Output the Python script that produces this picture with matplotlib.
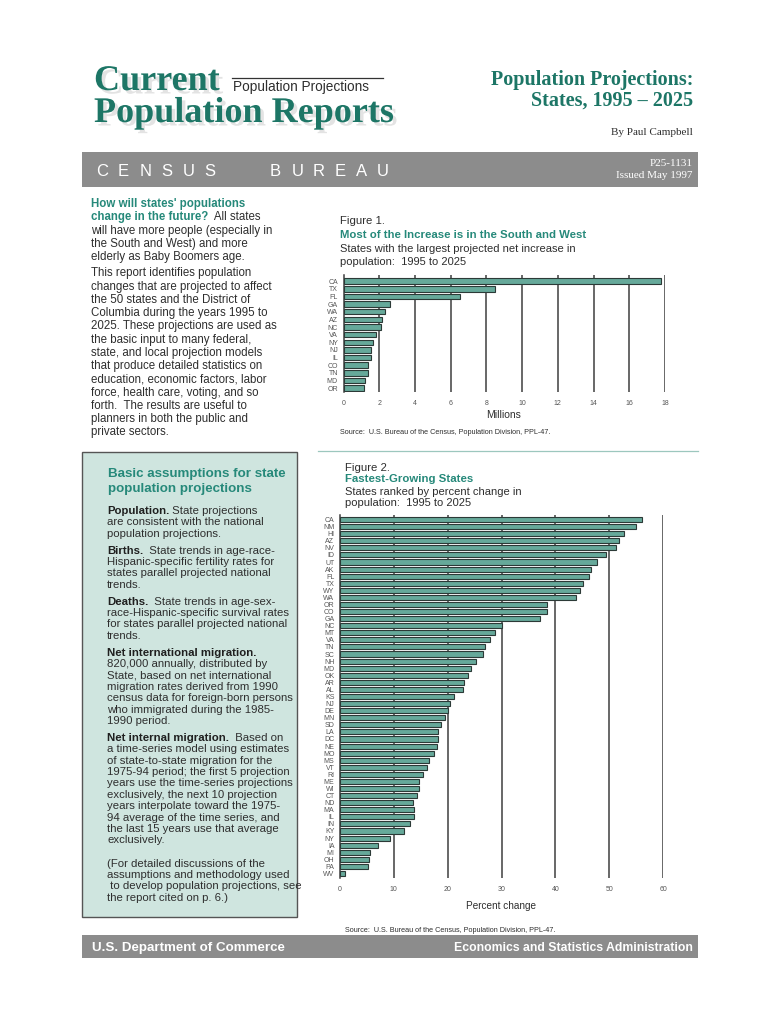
import matplotlib
matplotlib.use('Agg')
import matplotlib.pyplot as plt
import matplotlib.patheffects as pe
from matplotlib.patches import Rectangle
from matplotlib.lines import Line2D

# ---- data ----
fig1_states = ['CA', 'TX', 'FL', 'GA', 'WA', 'AZ', 'NC', 'VA', 'NY', 'NJ',
               'IL', 'CO', 'TN', 'MD', 'OR']
fig1_millions = [17.76, 8.46, 6.54, 2.61, 2.35, 2.16, 2.12, 1.80, 1.65, 1.54,
                 1.54, 1.37, 1.37, 1.20, 1.15]
fig1_ticks = [0, 2, 4, 6, 8, 10, 12, 14, 16, 18]

fig2_states = ['CA', 'NM', 'HI', 'AZ', 'NV', 'ID', 'UT', 'AK', 'FL', 'TX',
               'WY', 'WA', 'OR', 'CO', 'GA', 'NC', 'MT', 'VA', 'TN', 'SC',
               'NH', 'MD', 'OK', 'AR', 'AL', 'KS', 'NJ', 'DE', 'MN', 'SD',
               'LA', 'DC', 'NE', 'MO', 'MS', 'VT', 'RI', 'ME', 'WI', 'CT',
               'ND', 'MA', 'IL', 'IN', 'KY', 'NY', 'IA', 'MI', 'OH', 'PA', 'WV']
fig2_percent = [56.1, 55.0, 52.7, 51.9, 51.2, 49.5, 47.7, 46.7, 46.2, 45.2,
                44.6, 43.9, 38.4, 38.4, 37.1, 30.0, 28.8, 27.9, 26.9, 26.6,
                25.3, 24.4, 23.8, 23.1, 22.9, 21.2, 20.4, 20.0, 19.5, 18.8,
                18.2, 18.2, 18.0, 17.4, 16.5, 16.1, 15.4, 14.6, 14.6, 14.3,
                13.6, 13.7, 13.7, 13.0, 11.8, 9.3, 7.1, 5.6, 5.4, 5.2, 0.9]
fig2_ticks = [0, 10, 20, 30, 40, 50, 60]

intro_lines = [
    "will have more people (especially in",
    "the South and West) and more",
    "elderly as Baby Boomers age.",
    "This report identifies population",
    "changes that are projected to affect",
    "the 50 states and the District of",
    "Columbia during the years 1995 to",
    "2025. These projections are used as",
    "the basic input to many federal,",
    "state, and local projection models",
    "that produce detailed statistics on",
    "education, economic factors, labor",
    "force, health care, voting, and so",
    "forth.  The results are useful to",
    "planners in both the public and",
    "private sectors.",
]

box_paragraphs = [
    ("Population.", " State projections",
     ["are consistent with the national",
      "population projections."]),
    ("Births.", "  State trends in age-race-",
     ["Hispanic-specific fertility rates for",
      "states parallel projected national",
      "trends."]),
    ("Deaths.", "  State trends in age-sex-",
     ["race-Hispanic-specific survival rates",
      "for states parallel projected national",
      "trends."]),
    ("Net international migration.", "",
     ["820,000 annually, distributed by",
      "State, based on net international",
      "migration rates derived from 1990",
      "census data for foreign-born persons",
      "who immigrated during the 1985-",
      "1990 period."]),
    ("Net internal migration.", "  Based on",
     ["a time-series model using estimates",
      "of state-to-state migration for the",
      "1975-94 period; the first 5 projection",
      "years use the time-series projections",
      "exclusively, the next 10 projection",
      "years interpolate toward the 1975-",
      "94 average of the time series, and",
      "the last 15 years use that average",
      "exclusively."]),
]
box_note = [
    "(For detailed discussions of the",
    "assumptions and methodology used",
    " to develop population projections, see",
    "the report cited on p. 6.)",
]

# ---- colours / fonts ----
HEAD_TEAL = '#1d7666'
TEAL = '#26897a'
TEXT = '#2e2e2e'
BAND = '#8c8c8c'
BOX = '#cfe5df'
BAR = '#66a99a'
BAR_EDGE = '#2c3a37'
GRID = '#3f3f3f'
SANS = ['Liberation Sans', 'DejaVu Sans']
SERIF = ['Liberation Serif', 'DejaVu Serif']

W, H = 768, 1024
fig = plt.figure(figsize=(7.68, 10.24), dpi=100)
fig.patch.set_facecolor('white')
renderer = fig.canvas.get_renderer()


def put(x, y, s, **kw):
    # x, y in page pixels measured from the top left corner
    kw.setdefault('va', 'baseline')
    kw.setdefault('family', SANS)
    return fig.text(x / W, 1 - y / H, s, **kw)


def put_pair(x, y, lead, rest, lead_kw, rest_kw):
    t = put(x, y, lead, **lead_kw)
    bb = t.get_window_extent(renderer)
    if rest:
        put(bb.x1, y, rest, **rest_kw)


def rect(x0, y0, x1, y1, **kw):
    fig.add_artist(Rectangle((x0 / W, 1 - y1 / H), (x1 - x0) / W, (y1 - y0) / H,
                             transform=fig.transFigure, **kw))


def hline(x0, x1, y, **kw):
    fig.add_artist(Line2D([x0 / W, x1 / W], [1 - y / H, 1 - y / H],
                          transform=fig.transFigure, **kw))


# ---- masthead ----
shadow = [pe.SimplePatchShadow(offset=(2.5, -2.5), shadow_rgbFace='#b0b0b0', alpha=0.35),
          pe.Normal()]
put(94, 90, "Current", family=SERIF, weight='bold', size=26, color=HEAD_TEAL,
    path_effects=shadow)
put(94, 122, "Population Reports", family=SERIF, weight='bold', size=26,
    color=HEAD_TEAL, path_effects=shadow)
hline(232, 383, 78, color='#333333', lw=0.9)
put(233, 91, "Population Projections", size=9.8, color=TEXT)

put(693, 85, "Population Projections:", family=SERIF, weight='bold', size=14.5,
    color=HEAD_TEAL, ha='right')
put(693, 106, "States, 1995 \u2013 2025", family=SERIF, weight='bold', size=14.5,
    color=HEAD_TEAL, ha='right')
put(693, 135, "By Paul Campbell", family=SERIF, size=8, color=TEXT, ha='right')

rect(82, 152, 698, 187, facecolor=BAND, edgecolor='none')
for i, ch in enumerate("CENSUS"):
    put(96 + 21.6 * i, 176, ch, size=12, color='white')
for i, ch in enumerate("BUREAU"):
    put(270 + 21.4 * i, 176, ch, size=12, color='white')
put(693, 166, "P25-1131", family=SERIF, size=8, color='white', ha='right')
put(693, 178, "Issued May 1997", family=SERIF, size=8, color='white', ha='right')

# ---- intro column ----
body = dict(size=8.3, color=TEXT)
lead = dict(size=8.3, color=TEAL, weight='bold')
put(91, 207, "How will states' populations", **lead)
put_pair(91, 220.3, "change in the future?", "  All states", lead, body)
y = 233.6
for k, line in enumerate(intro_lines):
    if k == 3:
        y += 3
    put(91, y, line, **body)
    y += 13.25

# ---- assumptions box ----
rect(82, 452, 297, 917, facecolor=BOX, edgecolor='#555555', lw=1.0)
put(108, 477, "Basic assumptions for state", size=9.6, weight='bold', color=TEAL)
put(108, 492, "population projections", size=9.6, weight='bold', color=TEAL)
bbody = dict(size=8.2, color=TEXT)
bbold = dict(size=8.2, color='#1f1f1f', weight='bold')
y = 514
for head, rest, more in box_paragraphs:
    put_pair(107, y, head, rest, bbold, bbody)
    y += 11.4
    for line in more:
        put(107, y, line, **bbody)
        y += 11.4
    y += 5.4
y += 6.5
for line in box_note:
    put(107, y, line, **bbody)
    y += 11.4


# ---- charts ----
def bar_panel(left, right, top, bottom, states, values, ticks, ylim):
    ax = fig.add_axes([left / W, 1 - bottom / H, (right - left) / W, (bottom - top) / H])
    pos = list(range(len(states)))
    for t in ticks[1:]:
        ax.axvline(t, color=GRID, linewidth=1.1, zorder=1)
    ax.barh(pos, values, height=0.72, color=BAR, edgecolor=BAR_EDGE,
            linewidth=0.8, zorder=3)
    ax.set_xlim(ticks[0], ticks[-1])
    ax.set_ylim(*ylim)
    ax.set_xticks(ticks)
    ax.set_xticklabels([str(t) for t in ticks], family=SANS)
    ax.set_yticks(pos)
    ax.set_yticklabels(states, family=SANS)
    for side in ['top', 'right', 'bottom']:
        ax.spines[side].set_visible(False)
    ax.spines['left'].set_color(GRID)
    ax.spines['left'].set_linewidth(1.1)
    ax.tick_params(axis='x', length=0, labelsize=5, labelcolor='#555555', pad=6)
    ax.tick_params(axis='y', length=0, labelsize=5, labelcolor='#555555', pad=4)
    ax.set_facecolor('none')
    return ax


# Figure 1
put(340, 224, "Figure 1.", size=8.2, color=TEXT)
put(340, 237.5, "Most of the Increase is in the South and West", size=8.2,
    weight='bold', color=TEAL)
put(340, 252.5, "States with the largest projected net increase in", size=8, color=TEXT)
put(340, 265, "population:  1995 to 2025", size=8, color=TEXT)
bar_panel(343.5, 665, 275, 392, fig1_states, fig1_millions, fig1_ticks, (14.5, -0.8))
put(504, 418, "Millions", size=7.5, color=TEXT, ha='center')
put(340, 434, "Source:  U.S. Bureau of the Census, Population Division, PPL-47.",
    size=5.2, color=TEXT)
hline(318, 698, 451, color='#9cc7be', lw=0.9)

# Figure 2
put(345, 471, "Figure 2.", size=8.2, color=TEXT)
put(345, 482.5, "Fastest-Growing States", size=8.2, weight='bold', color=TEAL)
put(345, 495, "States ranked by percent change in", size=8, color=TEXT)
put(345, 506, "population:  1995 to 2025", size=8, color=TEXT)
bar_panel(340, 663, 515, 878, fig2_states, fig2_percent, fig2_ticks, (50.64, -0.64))
put(501, 909, "Percent change", size=7.2, color=TEXT, ha='center')
put(345, 932, "Source:  U.S. Bureau of the Census, Population Division, PPL-47.",
    size=5.2, color=TEXT)

# ---- footer band ----
rect(82, 935, 698, 958, facecolor=BAND, edgecolor='none')
put(92, 951, "U.S. Department of Commerce", size=9.6, weight='bold', color='white')
put(693, 951, "Economics and Statistics Administration", size=8.8, weight='bold',
    color='white', ha='right')

fig.savefig('out.png', dpi=100)
